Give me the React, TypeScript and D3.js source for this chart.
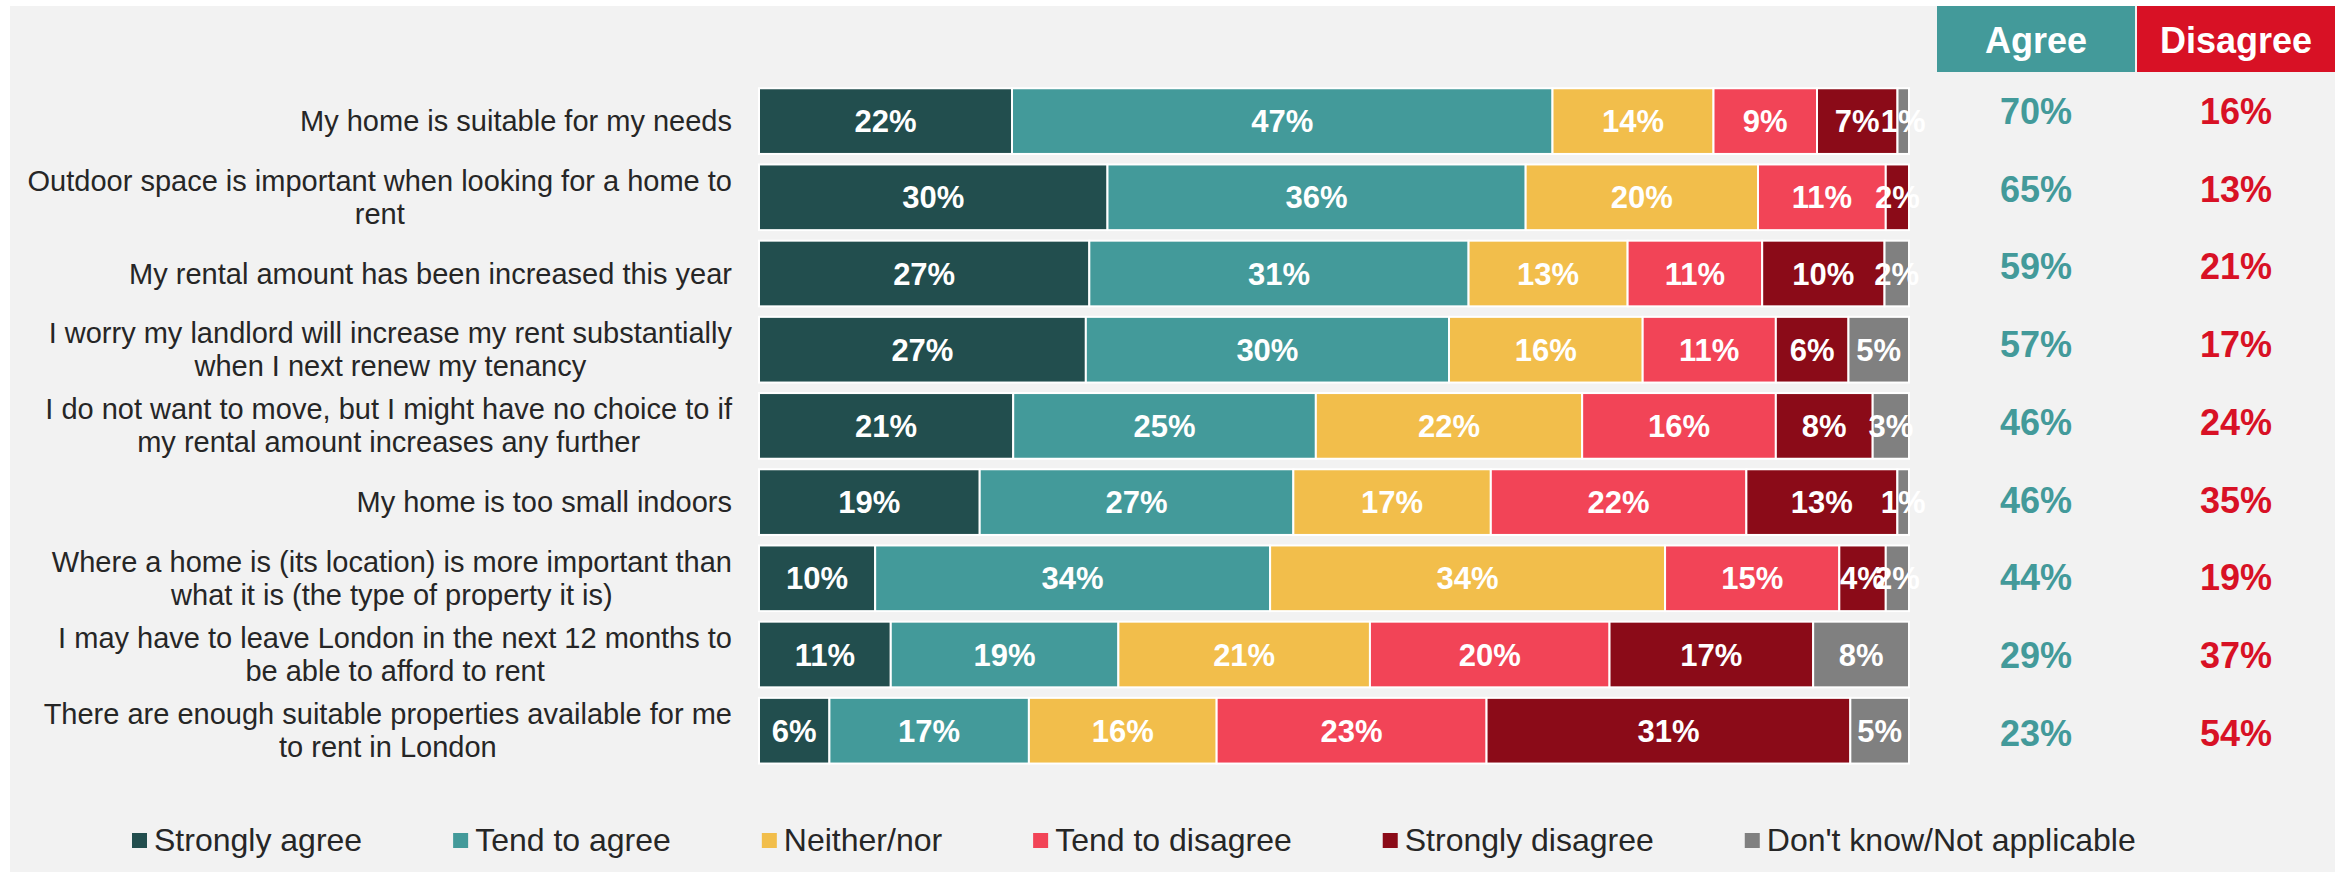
import React from 'react';
import * as d3 from 'd3';

const categories = [
  'My home is suitable for my needs',
  'Outdoor space is important when looking for a home to\nrent',
  'My rental amount has been increased this year',
  'I worry my landlord will increase my rent substantially\nwhen I next renew my tenancy',
  'I do not want to move, but I might have no choice to if\nmy rental amount increases any further',
  'My home is too small indoors',
  'Where a home is (its location) is more important than\nwhat it is (the type of property it is)',
  'I may have to leave London in the next 12 months to\nbe able to afford to rent',
  'There are enough suitable properties available for me\nto rent in London',
];

const seriesNames = [
  'Strongly agree',
  'Tend to agree',
  'Neither/nor',
  'Tend to disagree',
  'Strongly disagree',
  "Don't know/Not applicable",
];

const stronglyAgree = [22, 30, 27, 27, 21, 19, 10, 11, 6];
const tendToAgree = [47, 36, 31, 30, 25, 27, 34, 19, 17];
const neitherNor = [14, 20, 13, 16, 22, 17, 34, 21, 16];
const tendToDisagree = [9, 11, 11, 11, 16, 22, 15, 20, 23];
const stronglyDisagree = [7, 2, 10, 6, 8, 13, 4, 17, 31];
const dontKnow = [1, 0, 2, 5, 3, 1, 2, 8, 5];

const agreeTotals = [70, 65, 59, 57, 46, 46, 44, 29, 23];
const disagreeTotals = [16, 13, 21, 17, 24, 35, 19, 37, 54];

const seriesColors = ['#224e4e', '#439a9a', '#f2be4b', '#f24457', '#8b0b18', '#808080'];
const agreeColor = '#439a9a';
const disagreeColor = '#d81125';

const FONT = "'Liberation Sans', Arial, sans-serif";

const seriesValues = [stronglyAgree, tendToAgree, neitherNor, tendToDisagree, stronglyDisagree, dontKnow];

const table = categories.map((c, i) => {
  const row: any = { category: c };
  seriesNames.forEach((s, k) => (row[s] = seriesValues[k][i]));
  return row;
});

let measureCtx: CanvasRenderingContext2D | null = null;
function measure(text: string, font: string) {
  if (!measureCtx) measureCtx = document.createElement('canvas').getContext('2d');
  measureCtx!.font = font;
  return measureCtx!.measureText(text).width;
}

export default function App() {
  const W = 2338;
  const H = 872;
  const x = d3.scaleLinear().domain([0, 1]).range([759, 1909]);
  const y = d3.scaleBand<string>().domain(categories).range([83, 768.8]).paddingInner(0.138).paddingOuter(0.069);
  const stack = d3.stack<any>().keys(seriesNames).offset(d3.stackOffsetExpand);
  const layers = stack(table);

  const labelRight = 732;
  const labelFont = `29px ${FONT}`;
  const legendFont = `32px ${FONT}`;

  // legend layout
  let lx = 132;
  const legendItems = seriesNames.map((s, k) => {
    const item = { name: s, x: lx, color: seriesColors[k] };
    lx += 22 + measure(s, legendFont) + 91;
    return item;
  });

  const tableY = (i: number) => 124 + i * 77.7;

  return (
    <svg width={W} height={H} style={{ position: 'absolute', left: 0, top: 0 }} fontFamily={FONT}>
      <rect x={0} y={0} width={W} height={H} fill="#ffffff" />
      <rect x={10} y={6} width={2325} height={866} fill="#f2f2f2" />

      {/* headers */}
      <rect x={1937} y={6} width={198} height={66} fill={agreeColor} />
      <rect x={2137} y={6} width={198} height={66} fill={disagreeColor} />
      <text x={2036} y={53} textAnchor="middle" fill="#fff" fontWeight="bold" fontSize={36}>Agree</text>
      <text x={2236} y={53} textAnchor="middle" fill="#fff" fontWeight="bold" fontSize={36}>Disagree</text>

      {/* category labels */}
      {categories.map((c) => {
        const lines = c.split('\n');
        const cy = (y(c) as number) + y.bandwidth() / 2;
        const maxW = Math.max(...lines.map((l) => measure(l, labelFont)));
        const multi = lines.length > 1;
        const ax = multi ? labelRight - maxW / 2 : labelRight;
        return (
          <text key={c} fontSize={29} fill="#262626" textAnchor={multi ? 'middle' : 'end'}>
            {lines.map((l, j) => (
              <tspan key={j} x={ax} y={cy + (j - (lines.length - 1) / 2) * 33 + 10}>{l}</tspan>
            ))}
          </text>
        );
      })}

      {/* bars */}
      {layers.map((layer, k) => (
        <g key={layer.key} fill={seriesColors[k]}>
          {layer.map((d, i) => {
            const v = seriesValues[k][i];
            if (!v) return null;
            return (
              <rect
                key={i}
                x={x(d[0])}
                y={y(categories[i])}
                width={x(d[1]) - x(d[0])}
                height={y.bandwidth()}
                stroke="#ffffff"
                strokeWidth={2}
              />
            );
          })}
        </g>
      ))}
      {layers.map((layer, k) => (
        <g key={'l' + layer.key}>
          {layer.map((d, i) => {
            const v = seriesValues[k][i];
            if (!v) return null;
            return (
              <text
                key={i}
                x={(x(d[0]) + x(d[1])) / 2}
                y={(y(categories[i]) as number) + y.bandwidth() / 2 + 11}
                textAnchor="middle"
                fill="#ffffff"
                fontWeight="bold"
                fontSize={31}
              >
                {v}%
              </text>
            );
          })}
        </g>
      ))}

      {/* agree / disagree totals */}
      {agreeTotals.map((v, i) => (
        <text key={'a' + i} x={2036} y={tableY(i)} textAnchor="middle" fill={agreeColor} fontWeight="bold" fontSize={36}>
          {v}%
        </text>
      ))}
      {disagreeTotals.map((v, i) => (
        <text key={'d' + i} x={2236} y={tableY(i)} textAnchor="middle" fill={disagreeColor} fontWeight="bold" fontSize={36}>
          {v}%
        </text>
      ))}

      {/* legend */}
      {legendItems.map((it) => (
        <g key={it.name}>
          <rect x={it.x} y={833} width={15} height={15} fill={it.color} />
          <text x={it.x + 22} y={851} fontSize={32} fill="#262626">{it.name}</text>
        </g>
      ))}
    </svg>
  );
}
